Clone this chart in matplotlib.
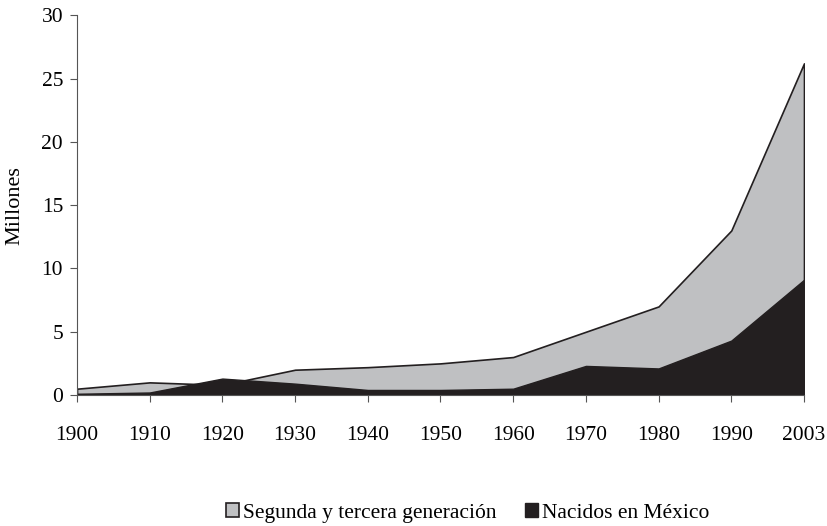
import matplotlib.pyplot as plt

# --- Datos ---
anios = ["1900", "1910", "1920", "1930", "1940", "1950", "1960", "1970", "1980", "1990", "2003"]
segunda_tercera = [0.5, 1.0, 0.8, 2.0, 2.2, 2.5, 3.0, 5.0, 7.0, 13.0, 26.2]
nacidos_mexico = [0.1, 0.2, 1.3, 0.9, 0.4, 0.4, 0.5, 2.3, 2.1, 4.3, 9.1]

plt.rcParams["font.family"] = ["Liberation Serif", "DejaVu Serif"]

fig = plt.figure(figsize=(8.28, 5.26), dpi=100)
ax = fig.add_axes([0.093, 0.249, 0.878, 0.722])

x = list(range(len(anios)))
gris = "#bfc0c2"
negro = "#231f20"

ax.fill_between(x, 0, segunda_tercera, facecolor=gris, edgecolor=negro,
                linewidth=1.2, label="Segunda y tercera generación")
ax.fill_between(x, 0, nacidos_mexico, facecolor=negro, edgecolor=negro,
                linewidth=1.0, label="Nacidos en México")

ax.set_xlim(0, len(anios) - 1)
ax.set_ylim(0, 30)
ax.set_xticks(x)
ax.set_xticklabels(anios)
ax.set_yticks(range(0, 31, 5))
ax.tick_params(labelsize=15.5, length=5, color="#555555")
ax.tick_params(axis="x", pad=17)
ax.tick_params(axis="y", pad=5)
ax.set_ylabel("Millones", fontsize=16, labelpad=12)

for lado in ["top", "right"]:
    ax.spines[lado].set_visible(False)
for lado in ["left", "bottom"]:
    ax.spines[lado].set_color("#555555")

leg = fig.legend(loc="center", bbox_to_anchor=(0.565, 0.025), ncol=2, frameon=False,
                 fontsize=15.5, handlelength=0.6, handleheight=0.6,
                 handletextpad=0.2, columnspacing=1.3)

plt.savefig("out.png", dpi=100)
